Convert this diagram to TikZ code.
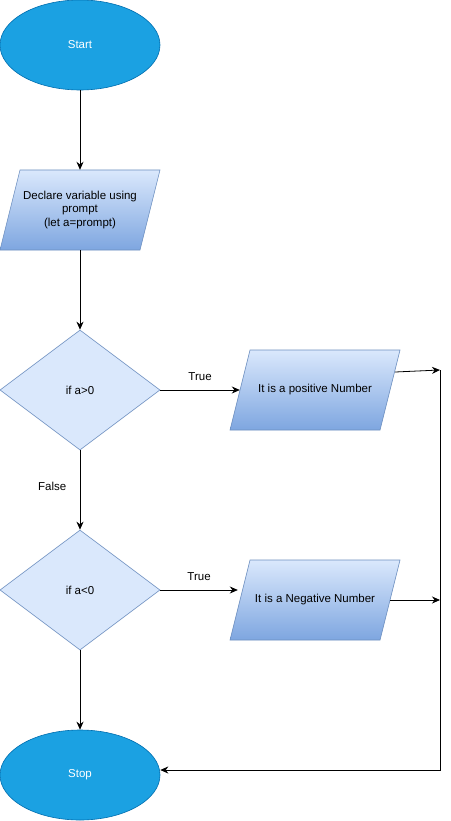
\documentclass[tikz,border=0pt]{standalone}
\usepackage{fontspec}
\setmainfont{Liberation Sans}
\usetikzlibrary{shapes.geometric,arrows.meta}
\definecolor{termfill}{HTML}{1BA1E2}
\definecolor{termline}{HTML}{006EAF}
\definecolor{lightfill}{HTML}{DAE8FC}
\definecolor{darkfill}{HTML}{7EA6E0}
\definecolor{boxline}{HTML}{6C8EBF}
\tikzset{
  term/.style={ellipse, fill=termfill, draw=termline, line width=0.6pt, minimum width=160pt, minimum height=90pt, inner sep=0pt, text=white, font=\fontsize{11.5}{13.5}\selectfont},
  decide/.style={diamond, fill=lightfill, draw=boxline, line width=0.6pt, minimum width=160pt, minimum height=120pt, inner sep=0pt, font=\fontsize{11.5}{13.5}\selectfont},
  iobox/.style={minimum width=150pt, minimum height=80pt, inner sep=0pt, align=center, font=\fontsize{11.5}{13.5}\selectfont},
  ioshade/.style={top color=lightfill, bottom color=darkfill, draw=boxline, line width=0.6pt},
  conn/.style={line width=0.8pt, -{Stealth[length=8pt,width=7pt]}},
  lbl/.style={font=\fontsize{11.5}{13.5}\selectfont}
}
\begin{document}
\begin{tikzpicture}[x=1pt,y=-1pt]
\useasboundingbox[fill=white] (0,0) rectangle (450,821);
% shapes
\node[term] (start) at (80,45) {Start};
\shade[ioshade] (20,170) -- (160,170) -- (140,250) -- (0,250) -- cycle;
\node[iobox, minimum width=140pt] (decl) at (80,210) {Declare variable using\\prompt\\(let a=prompt)};
\node[decide] (d1) at (80,390) {if a>0};
\shade[ioshade] (250,350) -- (400,350) -- (380,430) -- (230,430) -- cycle;
\node[iobox] (pos) at (315,390) {It is a positive Number};
\node[decide] (d2) at (80,590) {if a<0};
\shade[ioshade] (250,560) -- (400,560) -- (380,640) -- (230,640) -- cycle;
\node[iobox] (neg) at (315,600) {It is a Negative Number};
\node[term] (stop) at (80,775) {Stop};
\coordinate (j1) at (440,370);
\coordinate (j2) at (440,600);
\coordinate (j3) at (440,770);
% connectors
\draw[conn] (start) -- (decl);
\draw[conn] (decl.south) -- (d1.north);
\draw[conn] (d1.east) -- node[lbl, above=6pt] {True} (pos.west);
\draw[conn] (d1.south) -- node[lbl, pos=0.45, left=10pt] {False} (d2.north);
\draw[conn] (d2.east) -- node[lbl, above=6pt] {True} ([xshift=-2pt]d2.east -| neg.west);
\draw[conn] (d2.south) -- (stop.north);
\draw[conn] ([xshift=5pt,yshift=18pt]pos.east) -- (j1);
\draw[conn] (neg.east) -- (j2);
\draw[conn] (j1) -- (j3) -- ([yshift=5pt]stop.east);
\end{tikzpicture}
\end{document}
